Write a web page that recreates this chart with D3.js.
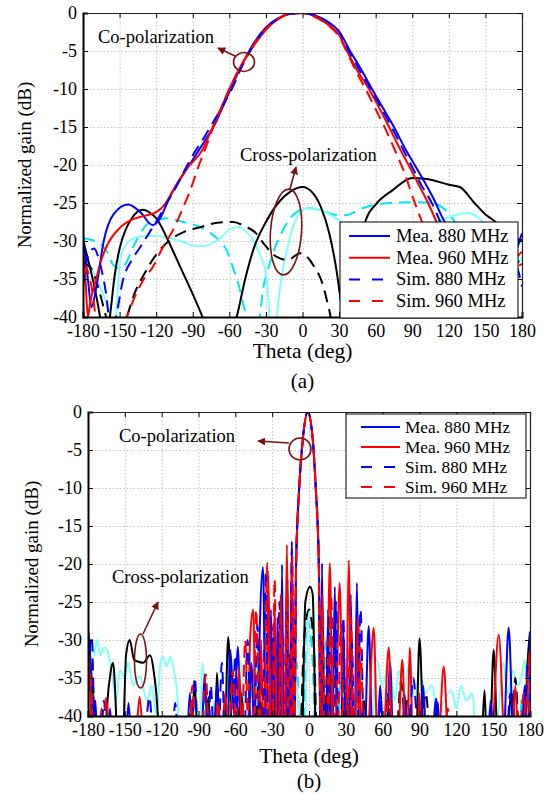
<!DOCTYPE html>
<html>
<head>
<meta charset="utf-8">
<script src="https://cdn.jsdelivr.net/npm/d3@7"></script>
<style>
body { margin: 0; background: #fff; }
svg text { font-family: "Liberation Serif", "Times New Roman", Tinos, "DejaVu Serif", serif; }
.grid line { stroke: #c4c4c4; stroke-width: 1; stroke-dasharray: 1.5, 2; }
</style>
</head>
<body>
<svg id="chart" width="544" height="795"></svg>
<script>
// tick values
let thetaTicks = [-180, -150, -120, -90, -60, -30, 0, 30, 60, 90, 120, 150, 180]
let gainTicks = [0, -5, -10, -15, -20, -25, -30, -35, -40]
let legendNames = ['Mea. 880 MHz', 'Mea. 960 MHz', 'Sim. 880 MHz', 'Sim. 960 MHz']
let serif = '"Liberation Serif", "Times New Roman", Tinos, "DejaVu Serif", serif'

// ---------- panel (a) : [theta deg, gain dB] ----------
let aMea880 = [[-180,-29],[-176,-35],[-173,-38.7],[-169,-36],[-163,-30],[-155,-26.5],[-143,-25.2],[-133,-26.2],[-123,-27.9],[-116,-26.8],[-110,-24.6],[-100,-21.8],[-90,-19.3],[-80,-16.8],[-73,-15],[-65,-12.2],[-59,-10],[-48,-6.3],[-40,-4],[-30,-1.9],[-20,-0.7],[-10,-0.1],[0,0],[10,-0.3],[20,-1.1],[30,-2.4],[39,-5],[48,-7.4],[57,-10],[66,-12.5],[75,-15],[84,-17.8],[92,-20],[100,-22.2],[108,-24.6],[115,-27],[122,-29],[130,-31.5],[140,-35],[150,-40],[156,-42],[162,-40],[168,-36],[174,-32],[180,-29]]
let aMea960 = [[-180,-31.4],[-178,-35],[-176,-40],[-174,-38],[-170,-35.5],[-165,-32.5],[-160,-30.5],[-150,-28.3],[-140,-27.2],[-130,-26.7],[-120,-26.2],[-113,-25.2],[-105,-23],[-95,-20.5],[-82,-18],[-75,-15.5],[-68,-13],[-60,-10],[-50,-6.8],[-40,-4.3],[-30,-2.2],[-20,-0.8],[-10,-0.1],[0,0],[10,-0.4],[20,-1.4],[30,-2.9],[36.5,-5],[45,-7.6],[54.5,-10],[63,-12.5],[71,-15],[79,-17.6],[87,-20],[95,-22.5],[103,-25],[110,-27.5],[118,-30],[126,-33],[135,-37],[142,-40],[150,-43],[158,-40],[165,-36],[172,-33],[180,-31.4]]
let aSim880 = [[-180,-36],[-176,-32],[-171,-31],[-166,-33],[-161,-37],[-157,-42],[-153,-40],[-147,-35],[-140,-32.5],[-133,-30.8],[-126,-29],[-119,-27.2],[-112,-25.2],[-104,-23],[-96,-20.5],[-88,-18.2],[-80,-16.2],[-72,-14],[-64,-11.8],[-58,-10],[-48,-6.5],[-40,-4.2],[-30,-2],[-20,-0.7],[-10,-0.1],[0,0],[10,-0.3],[20,-1.1],[30,-2.5],[38,-5],[47,-7.6],[56,-10],[65,-12.6],[73,-15],[82,-17.8],[90,-20.3],[98,-22.8],[106,-25],[113,-27.5],[120,-30],[128,-33],[136,-36.5],[143,-40],[150,-42],[160,-38],[168,-34],[174,-33],[180,-36]]
let aSim960 = [[-180,-33],[-176,-34],[-172,-37],[-168,-42],[-160,-45],[-150,-42],[-143,-39.5],[-136,-36.8],[-130,-35],[-123,-33.5],[-115,-31],[-106,-28.5],[-99,-26],[-92,-23.3],[-86,-20.5],[-80,-18],[-72,-14.5],[-64,-11.5],[-57,-9],[-48,-6.3],[-40,-4.2],[-30,-2.1],[-20,-0.8],[-10,-0.1],[0,0],[10,-0.5],[20,-1.5],[30,-3.1],[36,-5],[44,-7.7],[53,-10.4],[61,-13],[69,-15.6],[77,-18.5],[84,-21.2],[91,-24.5],[98,-27.5],[104,-30],[112,-33.5],[120,-37],[127,-40],[135,-43],[150,-40],[162,-36],[172,-34],[180,-33]]
let aXpolBlack = [[-180,-29.9],[-175,-33],[-170,-36.5],[-166,-40],[-163,-43],[-160,-42],[-158,-40],[-154,-34.5],[-150,-31],[-145,-28.5],[-140,-27],[-131,-25.9],[-125,-26.3],[-120,-27],[-110,-30],[-100,-33.5],[-90,-37],[-82,-40],[-75,-43],[-65,-45],[-58,-42],[-54,-40],[-47,-35],[-40,-31],[-30,-27.5],[-20,-25],[-10,-23.5],[0,-22.9],[8,-23.6],[15,-25.5],[22,-29],[28,-34],[33,-40],[36,-44],[40,-40],[46,-32],[52,-27.2],[60,-25.2],[74,-23.3],[90,-21.7],[100,-21.8],[107,-22],[120,-22.6],[129,-22.9],[141,-25],[150,-26.5],[156,-27.2],[165,-28.5],[172,-29.5],[180,-29.9]]
let aXpolBlackSim = [[-180,-32.8],[-172,-34],[-166,-37],[-161,-40],[-155,-43],[-148,-42],[-144,-40],[-138,-37],[-131,-34.7],[-120,-31.8],[-109,-29.9],[-97,-28.8],[-84,-28.2],[-70,-27.6],[-57,-27.5],[-48,-28],[-38,-29],[-32,-30.3],[-21,-32.1],[-12,-32.5],[-2,-31.6],[5,-32.3],[10,-33.5],[15,-35],[20,-37.8],[23,-40],[26,-44],[35,-45],[50,-44],[60,-42],[75,-40],[100,-36],[130,-34],[150,-33],[165,-32.5],[180,-32.8]]
let aXpolCyan = [[-180,-32.2],[-175,-33],[-170,-34.5],[-165,-36.5],[-160,-38.5],[-157,-40],[-155,-42],[-153,-40],[-150,-33],[-147,-31],[-140,-29.8],[-133,-29.4],[-120,-29.3],[-110,-29.6],[-100,-30],[-90,-30.6],[-82,-30.7],[-74,-30.3],[-67,-29.6],[-59,-28.4],[-52,-28.2],[-46,-28.8],[-40,-30],[-35,-31.8],[-32,-33],[-29,-35.5],[-27,-40],[-25,-44],[-23,-44],[-21,-40],[-17,-34.5],[-12.7,-31.2],[-8,-28.2],[-2,-26.3],[4,-25.7],[12,-25.8],[20,-26.3],[30,-27.3],[40,-28.8],[50,-31],[60,-33],[70,-33.5],[80,-32],[95,-29.5],[110,-27.5],[121,-26.8],[135,-26.3],[148,-27.5],[155,-30],[160,-34],[164,-38],[167,-42],[170,-40],[175,-34],[180,-32.2]]
let aXpolCyanSim = [[-180,-29.6],[-172,-29.9],[-166,-30.3],[-160,-31.5],[-155,-33.2],[-150,-33.6],[-145,-33],[-140,-31.2],[-133,-29],[-126,-27.6],[-119,-27.2],[-110,-27],[-100,-27.4],[-90,-27.8],[-82,-28.3],[-75,-29],[-68,-30],[-62,-31.3],[-57,-33.5],[-52,-36],[-48.8,-38.2],[-46,-40],[-42,-44],[-38,-44],[-35,-40],[-32,-36],[-29,-34.2],[-24,-31.5],[-18,-29.2],[-10,-27],[-3,-26],[4,-25.7],[14,-25.9],[25,-26.5],[35,-26.6],[49,-25.7],[71,-25],[90,-24.9],[106,-25],[117,-25.9],[125,-27.5],[135,-30],[145,-33],[155,-35],[165,-34],[172,-32],[180,-29.6]]

// ---------- panel (b) ----------
let bMea880 = [[-180,-28.7],[-178,-33],[-176.5,-45],[-174,-38],[-172,-45],[-165,-45],[-162,-39],[-160,-45],[-150,-45],[-147,-38.3],[-144,-45],[-120,-45],[-118,-40],[-116,-45],[-100,-45],[-97,-37],[-94,-45],[-88,-45],[-85,-34.5],[-82,-45],[-78,-45],[-75,-36],[-72,-45],[-67,-45],[-64,-31.3],[-61,-40],[-58,-30.9],[-55,-45],[-50,-45],[-47,-33],[-44,-45],[-42,-45],[-40,-28],[-37.5,-20.4],[-35,-45],[-33,-45],[-31,-26],[-29,-45],[-27.5,-45],[-25.5,-27],[-24,-45],[-23,-45],[-22,-20.1],[-20.5,-45],[-19.5,-45],[-17.5,-22],[-16,-45],[-15.5,-45],[-14,-17],[-12.5,-45],[-12,-45],[-10.5,-20],[-8,-10],[-5,-3.5],[-1,0],[3,-3.5],[5.5,-10],[8,-20],[9.5,-45],[10.6,-19.9],[12,-45],[14,-45],[15.5,-26],[17,-45],[19,-45],[21,-23],[23,-45],[26,-45],[28,-28],[30,-45],[32,-45],[34,-24],[36,-45],[37,-45],[39,-22.5],[41,-45],[45,-45],[48.6,-28.2],[52,-45],[55,-45],[58,-36],[61,-45],[63,-45],[66,-33],[69,-45],[75,-45],[78,-37.2],[81,-45],[90,-45],[93,-36],[96,-45],[100,-45],[103,-38],[106,-45],[145,-45],[148,-38],[151,-45],[158,-45],[162.6,-28.4],[167,-45],[172,-45],[176,-36],[177.5,-45],[178.5,-45],[180,-28.9]]
let bMea960 = [[-180,-31.5],[-178,-38],[-177,-45],[-172,-45],[-169,-39],[-166,-45],[-142,-45],[-138,-37.5],[-134,-45],[-100,-45],[-95,-39],[-92,-45],[-72,-45],[-68,-37],[-65,-45],[-60,-45],[-57,-33.5],[-54,-45],[-50,-45],[-48,-30],[-45.5,-26],[-43,-45],[-41,-45],[-39,-30],[-37,-45],[-35,-45],[-33,-21.5],[-31,-45],[-29.5,-45],[-28,-25],[-26,-45],[-24.5,-45],[-23,-24],[-21,-45],[-20,-45],[-18,-17.5],[-16,-45],[-15,-45],[-14,-20],[-12.5,-45],[-12,-45],[-10.5,-20],[-8,-10],[-5,-3.5],[-1,0],[3,-3.5],[5.5,-10],[8,-20],[9.5,-45],[11,-24],[12.5,-45],[14,-45],[17,-19.9],[19.5,-45],[21,-45],[25,-22.5],[28,-45],[30,-45],[32.3,-19.5],[35,-45],[37,-45],[40,-27],[43,-45],[47,-45],[52.7,-28.4],[56,-45],[60,-45],[65,-31],[68,-45],[72,-45],[76,-32.6],[79,-45],[80,-45],[82,-31],[85,-45],[88,-45],[90,-37],[92,-45],[105,-45],[109.7,-33.5],[114,-45],[148,-45],[154.5,-29.3],[160,-45],[165,-45],[168,-36],[171,-45],[176,-45],[178,-35],[180,-31.5]]
let bSim880 = [[-180,-34],[-177,-29.5],[-174,-45],[-170,-45],[-167,-38],[-164,-45],[-135,-45],[-130,-37.5],[-126,-45],[-112,-45],[-109,-38.3],[-106,-45],[-96,-45],[-93,-34.9],[-90,-45],[-83,-45],[-80,-36],[-77,-45],[-74,-45],[-71,-33],[-68,-45],[-63,-45],[-60,-32],[-57,-45],[-53,-45],[-50,-30],[-47,-45],[-45,-45],[-42,-28],[-39.5,-45],[-38,-45],[-35,-21],[-33,-45],[-30.5,-45],[-29,-28],[-27,-45],[-26,-45],[-24,-25],[-22,-45],[-20,-45],[-18.5,-26],[-16,-45],[-15.5,-45],[-14,-18],[-12.5,-45],[-12,-45],[-10.5,-20],[-8,-10],[-5,-3.5],[-1,0],[3,-3.5],[5.5,-10],[8,-20],[9.5,-45],[11,-28],[13,-45],[14,-45],[16,-27],[18,-45],[20,-45],[22,-25],[24,-45],[26,-45],[28,-27],[30,-45],[32,-45],[35,-30],[37,-45],[39,-45],[42,-26],[45,-45],[55,-45],[58,-38],[61,-45],[80,-45],[85,-35],[90,-45],[100,-45],[104,-37.5],[108,-45],[160,-45],[164,-37],[168,-45],[175,-45],[178,-33],[180,-34]]
let bSim960 = [[-180,-32],[-177,-37],[-175,-45],[-168,-45],[-165,-37.5],[-162,-45],[-98,-45],[-95,-36],[-92,-45],[-88,-45],[-84,-34.5],[-81,-45],[-78,-45],[-74,-38],[-71,-45],[-66,-45],[-62,-34],[-59,-45],[-55,-45],[-52,-30],[-49,-45],[-46,-45],[-43,-26],[-40,-45],[-37,-45],[-34,-19.9],[-31.5,-45],[-30,-45],[-28,-22],[-26,-45],[-25,-45],[-23,-25],[-21,-45],[-20,-45],[-18,-24],[-16,-45],[-15,-45],[-13.5,-19],[-12.3,-45],[-12,-45],[-10.5,-20],[-8,-10],[-5,-3.5],[-1,0],[3,-3.5],[5.5,-10],[8,-20],[9.5,-45],[11,-26],[13,-45],[15,-45],[18,-24],[21,-45],[23,-45],[26,-28],[29,-45],[31,-45],[34,-27],[37,-45],[39,-45],[42,-31],[45,-45],[60,-45],[65,-38],[70,-45],[110,-45],[113,-39],[116,-45],[170,-45],[175,-37],[178,-45],[179,-45],[180,-32]]
let bXpolBlack = [[-180,-28.9],[-177,-35],[-173,-45],[-168,-45],[-163,-36],[-159.6,-33],[-155,-45],[-152,-45],[-149,-32],[-146,-30],[-142.5,-32.6],[-140,-32.8],[-135,-33],[-129.5,-32],[-125,-36],[-120,-45],[-97,-45],[-93,-36.2],[-90,-45],[-85,-45],[-82,-37.5],[-79,-45],[-77,-45],[-75,-34.3],[-72,-45],[-69,-45],[-65.8,-29.6],[-62,-45],[-58,-45],[-55,-37],[-52,-45],[-45,-45],[-40,-38],[-36,-45],[-30,-45],[-27,-34],[-24,-45],[-20,-45],[-15,-36],[-12,-45],[-6,-45],[-3,-25],[0.8,-23],[3,-24],[6,-45],[12,-45],[16,-33],[20,-45],[26,-45],[30,-37],[34,-45],[40,-45],[45,-38],[48,-45],[60,-45],[65,-39],[70,-45],[75,-45],[80,-38],[85,-45],[87,-45],[90,-29.8],[94,-45],[100,-45],[104,-38],[108,-45],[140,-45],[143,-36.6],[145,-45],[147,-45],[150.4,-31.3],[154,-45],[160,-45],[165,-37],[170,-45],[175,-45],[178,-33],[180,-28.9]]
let bXpolBlackSim = [[-180,-33],[-176,-36],[-172,-45],[-100,-45],[-96,-38],[-92,-45],[-60,-45],[-56,-37],[-52,-45],[-45,-45],[-40,-33],[-36,-45],[-32,-45],[-28,-30],[-24,-45],[-20,-45],[-16,-32],[-12,-45],[-8,-45],[-4,-30],[0,-26],[4,-31],[7,-45],[12,-45],[16,-29],[20,-45],[25,-45],[28,-36],[31,-45],[60,-45],[64,-37],[68,-45],[70,-45],[75,-35.5],[80,-45],[90,-45],[95,-37],[100,-45],[165,-45],[168,-35],[172,-45],[176,-45],[178,-34],[180,-33]]
let bXpolCyan = [[-180,-33],[-177,-30],[-175,-32],[-172.7,-30],[-170,-32],[-167,-31],[-164.5,-31.3],[-160,-35],[-157,-38],[-154,-34],[-150,-35],[-147.5,-33],[-143,-36],[-140,-35],[-137.6,-34.8],[-132,-38],[-128,-36],[-124,-40],[-121,-33],[-119,-32.2],[-116,-33.5],[-113,-32.2],[-110,-34],[-107.6,-36.6],[-104,-45],[-95,-45],[-92,-37],[-90,-45],[-89,-45],[-87,-33],[-85,-36],[-82,-45],[-80,-45],[-77,-38],[-74,-45],[-70,-45],[-66,-35],[-62,-45],[-58,-45],[-55,-33],[-52,-45],[-48,-45],[-44,-32],[-40,-45],[-36,-45],[-33,-29],[-30,-45],[-26,-45],[-22,-31],[-18,-45],[-14,-45],[-10,-36],[-6,-45],[-4,-45],[-0.3,-26.3],[4,-30],[7,-45],[15,-45],[18,-29],[21,-45],[25,-45],[28,-33],[32,-45],[40,-45],[43,-38],[46,-45],[50,-45],[55,-32.5],[60,-36],[65,-33],[70,-38],[73,-34],[77,-37],[82,-33],[86,-38],[90,-34],[95,-37],[100,-36],[105,-40],[110,-38],[116,-36.6],[120,-39],[124,-36],[128,-38],[133,-37],[137,-45],[150,-45],[155,-38],[158,-33],[162,-37],[166,-34],[170,-36],[173,-35],[176,-32.6],[178,-36],[180,-33]]
let bXpolCyanSim = [[-180,-34],[-176,-36],[-173,-45],[-90,-45],[-86,-37],[-82,-45],[-70,-45],[-66,-36],[-62,-45],[-50,-45],[-46,-34],[-42,-45],[-38,-45],[-34,-31],[-30,-45],[-26,-45],[-22,-28],[-18,-45],[-14,-45],[-10,-33],[-7,-45],[-5,-45],[-1,-27.5],[3,-33],[6,-45],[10,-45],[14,-30],[18,-45],[22,-45],[26,-35],[30,-45],[38,-45],[42,-37],[46,-45],[170,-45],[174,-37],[177,-45],[179,-45],[180,-34]]

let annotColor = '#7a1212'
let svg = d3.select('#chart')

svg.append('defs').append('marker')
    .attr('id', 'arrowhead')
    .attr('viewBox', '0 0 10 10')
    .attr('refX', 9).attr('refY', 5)
    .attr('markerWidth', 5).attr('markerHeight', 5)
    .attr('orient', 'auto')
    .append('path').attr('d', 'M0,0 L10,5 L0,10 z').attr('fill', annotColor)

let drawPanel = (p) => {
    let x = d3.scaleLinear().domain([-180, 180]).range([p.left, p.right])
    let y = d3.scaleLinear().domain([-40, 0]).range([p.bottom, p.top])
    let g = svg.append('g')

    g.append('clipPath').attr('id', p.id + '-clip')
        .append('rect')
        .attr('x', p.left).attr('y', p.top)
        .attr('width', p.right - p.left).attr('height', p.bottom - p.top)

    // dotted grid
    g.append('g').attr('class', 'grid')
        .attr('transform', `translate(0,${p.bottom})`)
        .call(d3.axisBottom(x).tickValues(thetaTicks.slice(1, -1)).tickSize(-(p.bottom - p.top)).tickFormat(''))
        .call(s => s.select('.domain').remove())
    g.append('g').attr('class', 'grid')
        .attr('transform', `translate(${p.left},0)`)
        .call(d3.axisLeft(y).tickValues(gainTicks.slice(1, -1)).tickSize(-(p.right - p.left)).tickFormat(''))
        .call(s => s.select('.domain').remove())

    // curves
    let line = d3.line().x(d => x(d[0])).y(d => y(d[1])).curve(d3.curveMonotoneX)
    let curves = g.append('g').attr('clip-path', `url(#${p.id}-clip)`)
    p.series.forEach(s => {
        curves.append('path')
            .attr('d', line(s.data))
            .attr('fill', 'none')
            .attr('stroke', s.color)
            .attr('stroke-width', 2)
            .attr('stroke-dasharray', s.dash ? '12,7' : null)
    })

    // axes (ticks pointing inward)
    let xAxis = g.append('g').attr('transform', `translate(0,${p.bottom})`)
        .call(d3.axisBottom(x).tickValues(thetaTicks).tickSize(-5).tickPadding(7).tickFormat(d => String(d)))
    let yAxis = g.append('g').attr('transform', `translate(${p.left},0)`)
        .call(d3.axisLeft(y).tickValues(gainTicks).tickSize(-5).tickPadding(6).tickFormat(d => String(d)))
    g.append('g').attr('transform', `translate(0,${p.top})`)
        .call(d3.axisTop(x).tickValues(thetaTicks).tickSize(-5).tickFormat(''))
    g.append('g').attr('transform', `translate(${p.right},0)`)
        .call(d3.axisRight(y).tickValues(gainTicks).tickSize(-5).tickFormat(''))
    g.selectAll('.domain').attr('stroke', '#222').attr('stroke-width', 1.2)
    xAxis.select('.domain').attr('stroke', '#000').attr('stroke-width', 2)
    yAxis.select('.domain').attr('stroke', '#000').attr('stroke-width', 2)
    g.selectAll('.tick text').attr('font-family', serif).attr('font-size', 18).attr('fill', '#000')

    // axis titles
    g.append('text')
        .attr('transform', `translate(${p.ylabelX},${(p.top + p.bottom) / 2}) rotate(-90)`)
        .attr('text-anchor', 'middle').attr('font-size', 19).attr('font-family', serif)
        .text('Normalized gain (dB)')
    g.append('text')
        .attr('x', (p.left + p.right) / 2).attr('y', p.xlabelY)
        .attr('text-anchor', 'middle').attr('font-size', 21.5).attr('font-family', serif)
        .text('Theta (deg)')
    g.append('text')
        .attr('x', (p.left + p.right) / 2).attr('y', p.captionY)
        .attr('text-anchor', 'middle').attr('font-size', 21).attr('font-family', serif)
        .text(p.caption)

    // legend
    let lg = g.append('g').attr('transform', `translate(${p.legend.x},${p.legend.y})`)
    lg.append('rect').attr('width', p.legend.w).attr('height', p.legend.h)
        .attr('fill', '#fff').attr('stroke', '#000').attr('stroke-width', 1)
    legendNames.forEach((name, i) => {
        let s = p.series[p.series.length - 4 + i]
        let cy = p.legend.row0 + i * p.legend.step
        lg.append('line')
            .attr('x1', p.legend.lx1).attr('x2', p.legend.lx2)
            .attr('y1', cy).attr('y2', cy)
            .attr('stroke', s.color).attr('stroke-width', 2)
            .attr('stroke-dasharray', s.dash ? '11,12' : null)
        lg.append('text')
            .attr('x', p.legend.tx).attr('y', cy + 6)
            .attr('font-size', p.legend.fs).attr('font-family', serif)
            .text(name)
    })

    // annotations
    let an = g.append('g')
    p.notes.forEach(n => {
        an.append('text').attr('x', n.tx).attr('y', n.ty)
            .attr('font-size', 18.5).attr('font-family', serif).text(n.text)
        an.append('ellipse')
            .attr('transform', `translate(${n.cx},${n.cy}) rotate(${n.rot})`)
            .attr('rx', n.rx).attr('ry', n.ry)
            .attr('fill', 'none').attr('stroke', annotColor).attr('stroke-width', 1.6)
        an.append('line')
            .attr('x1', n.ax1).attr('y1', n.ay1).attr('x2', n.ax2).attr('y2', n.ay2)
            .attr('stroke', annotColor).attr('stroke-width', 1.6)
            .attr('marker-end', 'url(#arrowhead)')
    })
}

let seriesFor = (k) => [
    { data: k[4], color: '#00e8ee', dash: true },
    { data: k[5], color: '#80ffff', dash: false },
    { data: k[6], color: '#000', dash: true },
    { data: k[7], color: '#000', dash: false },
    { data: k[0], color: '#0000ff', dash: false },
    { data: k[1], color: '#ff0000', dash: false },
    { data: k[2], color: '#0000ff', dash: true },
    { data: k[3], color: '#ff0000', dash: true }
]

drawPanel({
    id: 'pa', left: 83, right: 522, top: 13, bottom: 317,
    ylabelX: 31, xlabelY: 358, captionY: 388, caption: '(a)',
    series: seriesFor([aMea880, aMea960, aSim880, aSim960, aXpolCyanSim, aXpolCyan, aXpolBlackSim, aXpolBlack]),
    legend: { x: 340, y: 222, w: 178, h: 96, row0: 14, step: 21.7, lx1: 9, lx2: 50, tx: 56, fs: 18.5 },
    notes: [
        { text: 'Co-polarization', tx: 98, ty: 43, cx: 244, cy: 62, rx: 10.5, ry: 9.5, rot: 0, ax1: 235, ay1: 56, ax2: 218, ay2: 48 },
        { text: 'Cross-polarization', tx: 240, ty: 161, cx: 286, cy: 232, rx: 15.5, ry: 43, rot: 4, ax1: 290, ay1: 189, ax2: 296, ay2: 167 }
    ]
})

drawPanel({
    id: 'pb', left: 88, right: 530, top: 412, bottom: 716,
    ylabelX: 38, xlabelY: 763, captionY: 788, caption: '(b)',
    series: seriesFor([bMea880, bMea960, bSim880, bSim960, bXpolCyanSim, bXpolCyan, bXpolBlackSim, bXpolBlack]),
    legend: { x: 346, y: 414, w: 180, h: 84, row0: 13, step: 20, lx1: 15, lx2: 54, tx: 59, fs: 17.3 },
    notes: [
        { text: 'Co-polarization', tx: 119, ty: 442, cx: 300, cy: 449, rx: 11, ry: 11, rot: 0, ax1: 289, ay1: 443, ax2: 258, ay2: 441 },
        { text: 'Cross-polarization', tx: 112, ty: 583, cx: 140.5, cy: 661, rx: 6, ry: 27, rot: 0, ax1: 143, ay1: 634, ax2: 158, ay2: 602 }
    ]
})
</script>
</body>
</html>
